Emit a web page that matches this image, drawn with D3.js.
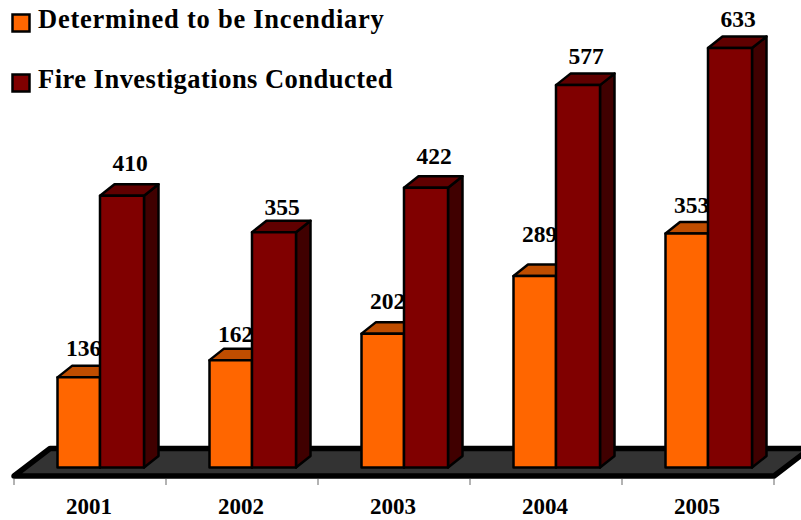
<!DOCTYPE html>
<html><head><meta charset="utf-8">
<script src="https://d3js.org/d3.v7.min.js"></script>
<style>html,body{margin:0;padding:0;background:#fff}svg{display:block}text{font-family:"Liberation Serif",serif;font-weight:bold;fill:#000}</style>
</head><body><svg id="c" width="801" height="520"></svg>
<script>
const years = ["2001","2002","2003","2004","2005"];
const incendiary = [136,162,202,289,353];
const investigations = [410,355,422,577,633];
const legendLabels = ["Determined to be Incendiary","Fire Investigations Conducted"];
const seriesColors = {inc:{front:"#FF6600",top:"#BF4D00",side:"#8A3700"},inv:{front:"#800000",top:"#600000",side:"#400000"}};

const svg=d3.select("#c");
const base=467.5, dx=14.5, dy=-11.5, sw=2.5;
const x=d3.scaleBand().domain(years).range([14,774]);
const y=d3.scaleLinear().domain([0,633]).range([base,48]);
const barW=44, offA=43.5, offB=86;
const line=d3.line();
// the reference places its value labels by hand, so each one carries a small nudge
const incNudge=[0,3,-4,-13,0], invNudge=[-4,4,-3,0,0];
const legendSpacing=[0.76,0.48];

const fx0=x.range()[0], fx1=x.range()[1];
svg.append("path").attr("d",line([[fx0,476],[fx0+36,448.5],[fx1+36,448.5],[fx1,476]])+"Z")
  .attr("fill","#333333").attr("stroke","#000").attr("stroke-width",5.5).attr("stroke-linejoin","round");

const ticks=x.domain().map(d=>x(d)).concat([fx1]);
svg.selectAll("line.t").data(ticks).join("line").attr("class","t")
  .attr("x1",d=>d).attr("x2",d=>d).attr("y1",479).attr("y2",485).attr("stroke","#808080").attr("stroke-width",1.2);
svg.selectAll("text.yr").data(years).join("text").attr("class","yr")
  .attr("x",d=>x(d)+x.bandwidth()/2-1).attr("y",513.5).attr("text-anchor","middle").attr("font-size",23).text(d=>d);

function bar(g,left,w,val,c){
  const t=y(val);
  const add=(pts,f)=>g.append("path").attr("d",line(pts)+"Z").attr("fill",f)
    .attr("stroke","#000").attr("stroke-width",sw).attr("stroke-linejoin","round");
  add([[left+w,base],[left+w+dx,base+dy],[left+w+dx,t+dy],[left+w,t]],c.side);
  add([[left,t],[left+dx,t+dy],[left+w+dx,t+dy],[left+w,t]],c.top);
  add([[left,base],[left,t],[left+w,t],[left+w,base]],c.front);
}
const gA=svg.append("g");
years.forEach((yr,i)=>bar(gA,x(yr)+offA,offB-offA,incendiary[i],seriesColors.inc));
years.forEach((yr,i)=>{
  svg.append("text").attr("x",x(yr)+offA+26).attr("y",y(incendiary[i])-21+incNudge[i]).attr("text-anchor","middle").attr("font-size",23.5).text(incendiary[i]);
});
const gB=svg.append("g");
years.forEach((yr,i)=>bar(gB,x(yr)+offB,barW,investigations[i],seriesColors.inv));
years.forEach((yr,i)=>{
  svg.append("text").attr("x",x(yr)+offB+30).attr("y",y(investigations[i])-21+invNudge[i]).attr("text-anchor","middle").attr("font-size",23.5).text(investigations[i]);
});

const legY=d3.scalePoint().domain(legendLabels).range([23,83]);
const legC=[seriesColors.inc.front,seriesColors.inv.front];
legendLabels.forEach((l,i)=>{
  svg.append("rect").attr("x",12.5).attr("y",legY(l)-8.5).attr("width",17).attr("height",17).attr("fill",legC[i]).attr("stroke","#000").attr("stroke-width",2.5);
  svg.append("text").attr("x",38).attr("y",legY(l)+5).attr("font-size",26.5).attr("letter-spacing",legendSpacing[i]).text(l);
});
</script></body></html>
